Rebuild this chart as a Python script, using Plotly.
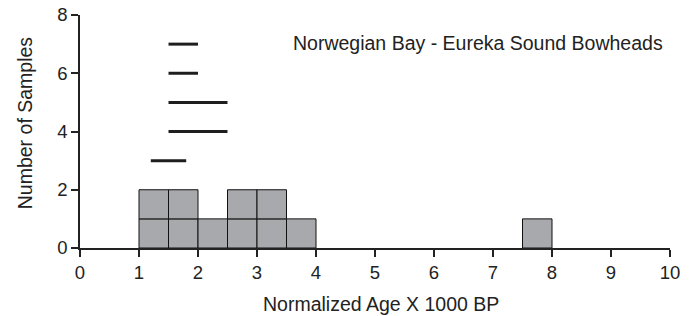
import plotly.graph_objects as go

# Histogram bins (left edge, width 0.5) and sample counts
bin_left = [1.0, 1.5, 2.0, 2.5, 3.0, 3.5, 7.5]
bin_count = [2, 2, 1, 2, 2, 1, 1]
bin_width = 0.5

# Horizontal range segments
seg_y = [3, 4, 5, 6, 7]
seg_start = [1.2, 1.5, 1.5, 1.5, 1.5]
seg_end = [1.8, 2.5, 2.5, 2.0, 2.0]

x_ticks = list(range(0, 11))
y_ticks = [0, 2, 4, 6, 8]

title_text = "Norwegian Bay - Eureka Sound Bowheads"
x_title = "Normalized Age X 1000 BP"
y_title = "Number of Samples"

fig = go.Figure()

max_level = max(bin_count)
for level in range(max_level):
    xs = [l + bin_width / 2 for l, c in zip(bin_left, bin_count) if c > level]
    fig.add_trace(go.Bar(
        x=xs, y=[1] * len(xs), base=[level] * len(xs), width=bin_width,
        marker=dict(color="#a8a9ac", line=dict(color="#111111", width=1)),
        showlegend=False, hoverinfo="skip"))

for y, a, b in zip(seg_y, seg_start, seg_end):
    fig.add_trace(go.Scatter(
        x=[a, b], y=[y, y], mode="lines",
        line=dict(color="#1e1e1e", width=3), showlegend=False))

FAM = "Liberation Sans, Arial, sans-serif"
tick_font = dict(family=FAM, size=18.5, color="#222222")
title_font = dict(family=FAM, size=19.5, color="#222222")

fig.update_layout(
    width=696, height=316,
    margin=dict(l=80, r=26, t=15, b=68),
    paper_bgcolor="white", plot_bgcolor="white",
    barmode="overlay",
    font=tick_font,
    annotations=[
        dict(x=0.675, y=0.88, xref="paper", yref="paper",
             text=title_text, showarrow=False, xanchor="center", yanchor="middle",
             font=title_font),
        dict(x=0.511, y=-0.24, xref="paper", yref="paper",
             text=x_title, showarrow=False, xanchor="center", yanchor="middle",
             font=title_font),
        dict(x=-0.093, y=0.536, xref="paper", yref="paper",
             text=y_title, showarrow=False, xanchor="center", yanchor="middle",
             textangle=-90, font=title_font),
    ],
)

fig.update_xaxes(
    range=[0, 10], tickvals=x_ticks, ticks="outside", ticklen=7, tickwidth=1.5,
    tickcolor="#222222", showline=True, linecolor="#222222", linewidth=1.5,
    showgrid=False, zeroline=False, automargin=False, tickfont=tick_font,
    ticklabeloverflow="allow")

fig.update_yaxes(
    range=[0, 8], tickvals=y_ticks, ticks="outside", ticklen=7, tickwidth=1.5,
    tickcolor="#222222", showline=True, linecolor="#222222", linewidth=1.5,
    showgrid=False, zeroline=False, automargin=False, tickfont=tick_font,
    ticklabeloverflow="allow")

fig.write_html("out.html", config={"displayModeBar": False},
               post_script="document.body.style.margin='0px';")
